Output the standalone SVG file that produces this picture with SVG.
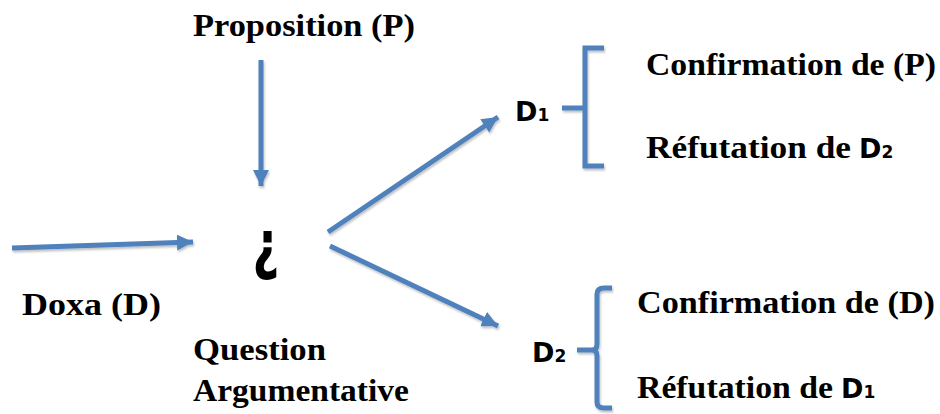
<svg xmlns="http://www.w3.org/2000/svg" width="940" height="414" viewBox="0 0 940 414">
  <defs>
    <marker id="ah" markerUnits="userSpaceOnUse" markerWidth="20" markerHeight="18" refX="16" refY="8" orient="auto">
      <path d="M0,0 L16,8 L0,16 Z" fill="#4F81BD"/>
    </marker>
    <filter id="sh" filterUnits="userSpaceOnUse" x="0" y="0" width="940" height="414">
      <feDropShadow dx="1" dy="2" stdDeviation="1.2" flood-color="#000" flood-opacity="0.25"/>
    </filter>
  </defs>
  <style>
    .lbl { font-family: "Liberation Serif", "Times New Roman", serif; font-weight: bold; font-size: 31px; fill: #000; }
    .sym { font-family: "DejaVu Sans", "Noto Sans", sans-serif; font-weight: bold; font-size: 27px; fill: #000; }
    .sub { font-size: 17px; }
    .conn { stroke: #4F81BD; stroke-width: 5; fill: none; stroke-linecap: butt; }
    .br { stroke: #4F81BD; stroke-width: 5; fill: none; }
  </style>
  <rect width="940" height="414" fill="#fff"/>

  <g id="connectors" filter="url(#sh)">
    <line class="conn" x1="261" y1="60" x2="261" y2="186" marker-end="url(#ah)"/>
    <line class="conn" x1="12" y1="248" x2="193" y2="242" marker-end="url(#ah)"/>
    <line class="conn" x1="328" y1="232" x2="498" y2="117" marker-end="url(#ah)"/>
    <line class="conn" x1="330" y1="246" x2="498" y2="326" marker-end="url(#ah)"/>
  </g>

  <g id="proposition">
    <text class="lbl" x="193" y="36" textLength="222" lengthAdjust="spacingAndGlyphs">Proposition (P)</text>
  </g>
  <g id="doxa">
    <text class="lbl" x="22" y="315" textLength="139" lengthAdjust="spacingAndGlyphs">Doxa (D)</text>
  </g>
  <g id="question">
    <text transform="translate(266,0) scale(0.7,1)" x="0" y="267" text-anchor="middle" style="font-family:'DejaVu Sans',sans-serif;font-weight:bold;font-size:66px;">¿</text>
    <text class="lbl" x="193" y="360" textLength="133" lengthAdjust="spacingAndGlyphs">Question</text>
    <text class="lbl" x="193" y="401" textLength="216" lengthAdjust="spacingAndGlyphs">Argumentative</text>
  </g>

  <g id="d1">
    <text class="sym" x="515" y="121">D<tspan class="sub" dy="0">1</tspan></text>
    <path class="br" filter="url(#sh)" d="M562,108 H585 M604,48 H585 V166 H604"/>
    <text class="lbl" x="646" y="75" textLength="290" lengthAdjust="spacingAndGlyphs">Confirmation de (P)</text>
    <text class="lbl" x="646" y="158"><tspan textLength="205" lengthAdjust="spacingAndGlyphs">Réfutation de</tspan><tspan class="sym" dx="8">D</tspan><tspan class="sym sub">2</tspan></text>
  </g>

  <g id="d2">
    <text class="sym" x="532" y="362">D<tspan class="sub">2</tspan></text>
    <path class="br" filter="url(#sh)" d="M577,350 H592 Q597,350 597,344 V294 Q597,288 604,288 H612 M597,356 V402 Q597,408 604,408 H612 M592,350 Q597,350 597,356"/>
    <text class="lbl" x="637" y="313" textLength="298" lengthAdjust="spacingAndGlyphs">Confirmation de (D)</text>
    <text class="lbl" x="637" y="398"><tspan textLength="196" lengthAdjust="spacingAndGlyphs">Réfutation de</tspan><tspan class="sym" dx="8">D</tspan><tspan class="sym sub">1</tspan></text>
  </g>
</svg>
